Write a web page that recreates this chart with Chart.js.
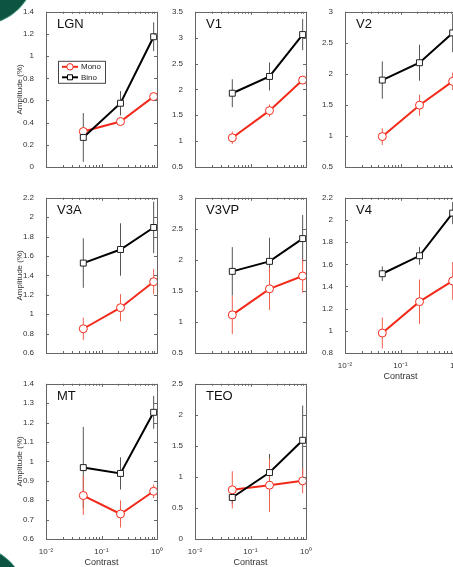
<!DOCTYPE html>
<html>
<head>
  <title>Amplitude vs contrast</title>
  <style>
    body {
      margin: 0;
      width: 453px;
      height: 567px;
      overflow: hidden;
      background: #fff;
      position: relative;
      font-family: "Liberation Sans", Arial, sans-serif;
    }
    .blob {
      position: absolute;
      background: #0e5443;
      border: 1px solid #3f9480;
      border-radius: 50%;
    }
    canvas {
      position: absolute;
    }
  </style>
</head>
<body>
  <div class="blob" style="left:-73px;top:-83px;width:106px;height:106px"></div>
  <div class="blob" style="left:-85px;top:545px;width:110px;height:110px"></div>
  <div class="blob" style="left:447px;top:-40px;width:46px;height:46px"></div>

  <script src="https://cdn.jsdelivr.net/npm/chart.js"></script>
  <script>
    // contrast levels (log axis) and labels
    const contrast = [0.047, 0.22, 0.87];
    const xTickLabels = ['10\u207B\u00B2', '10\u207B\u00B9', '10\u2070'];
    const legendLabels = ['Mono', 'Bino'];

    // amplitude (%) per area, mean and error half-width
    const lgnMono = [0.32, 0.41, 0.635];
    const lgnMonoErr = [0.03, 0.025, 0.035];
    const lgnBino = [0.267, 0.575, 1.175];
    const lgnBinoErr = [0.22, 0.11, 0.13];

    const v1Mono = [1.065, 1.59, 2.18];
    const v1MonoErr = [0.12, 0.12, 0.05];
    const v1Bino = [1.926, 2.25, 3.06];
    const v1BinoErr = [0.27, 0.27, 0.3];

    const v2Mono = [0.99, 1.496, 1.88];
    const v2MonoErr = [0.135, 0.17, 0.14];
    const v2Bino = [1.9, 2.18, 2.66];
    const v2BinoErr = [0.3, 0.29, 0.31];

    const v3aMono = [0.85, 1.067, 1.335];
    const v3aMonoErr = [0.115, 0.14, 0.13];
    const v3aBino = [1.527, 1.667, 1.894];
    const v3aBinoErr = [0.255, 0.27, 0.265];

    const v3vpMono = [1.114, 1.534, 1.74];
    const v3vpMonoErr = [0.31, 0.34, 0.27];
    const v3vpBino = [1.815, 1.976, 2.343];
    const v3vpBinoErr = [0.39, 0.38, 0.38];

    const v4Mono = [0.98, 1.263, 1.45];
    const v4MonoErr = [0.14, 0.2, 0.17];
    const v4Bino = [1.515, 1.677, 2.062];
    const v4BinoErr = [0.066, 0.08, 0.1];

    const mtMono = [0.824, 0.729, 0.846];
    const mtMonoErr = [0.1, 0.07, 0.035];
    const mtBino = [0.968, 0.938, 1.253];
    const mtBinoErr = [0.21, 0.083, 0.085];

    const teoMono = [0.792, 0.867, 0.937];
    const teoMonoErr = [0.3, 0.43, 0.2];
    const teoBino = [0.669, 1.07, 1.59];
    const teoBinoErr = [0.1, 0.3, 0.56];

    const panels = [
      { name: 'LGN', mono: lgnMono, monoErr: lgnMonoErr, bino: lgnBino, binoErr: lgnBinoErr, yMin: 0, yMax: 1.4, yStep: 0.2 },
      { name: 'V1', mono: v1Mono, monoErr: v1MonoErr, bino: v1Bino, binoErr: v1BinoErr, yMin: 0.5, yMax: 3.5, yStep: 0.5 },
      { name: 'V2', mono: v2Mono, monoErr: v2MonoErr, bino: v2Bino, binoErr: v2BinoErr, yMin: 0.5, yMax: 3, yStep: 0.5 },
      { name: 'V3A', mono: v3aMono, monoErr: v3aMonoErr, bino: v3aBino, binoErr: v3aBinoErr, yMin: 0.6, yMax: 2.2, yStep: 0.2 },
      { name: 'V3VP', mono: v3vpMono, monoErr: v3vpMonoErr, bino: v3vpBino, binoErr: v3vpBinoErr, yMin: 0.5, yMax: 3, yStep: 0.5 },
      { name: 'V4', mono: v4Mono, monoErr: v4MonoErr, bino: v4Bino, binoErr: v4BinoErr, yMin: 0.8, yMax: 2.2, yStep: 0.2 },
      { name: 'MT', mono: mtMono, monoErr: mtMonoErr, bino: mtBino, binoErr: mtBinoErr, yMin: 0.6, yMax: 1.4, yStep: 0.1 },
      { name: 'TEO', mono: teoMono, monoErr: teoMonoErr, bino: teoBino, binoErr: teoBinoErr, yMin: 0, yMax: 2.5, yStep: 0.5 }
    ];

    const RED = '#f22a1a';
    const FONT = '"Liberation Sans", Arial, sans-serif';

    // plot area placement on the page
    const colLeft = [46, 195, 345];
    const rowTop = [11, 197, 383];
    const plotW = 111, plotH = 156;
    const axisW = 46, axisH = 36, padTop = 8, padRight = 10;

    function isDecade(v) {
      const l = Math.log10(v);
      return Math.abs(l - Math.round(l)) < 1e-6;
    }

    // error bars under the lines
    const errorBars = {
      id: 'errorBars',
      beforeDatasetsDraw(chart) {
        const ctx = chart.ctx;
        const y = chart.scales.y;
        chart.data.datasets.forEach((ds, i) => {
          const meta = chart.getDatasetMeta(i);
          ctx.save();
          ctx.strokeStyle = ds.errColor;
          ctx.lineWidth = 1;
          meta.data.forEach((pt, k) => {
            const v = ds.data[k].y, e = ds.errors[k];
            ctx.beginPath();
            ctx.moveTo(pt.x, y.getPixelForValue(v + e));
            ctx.lineTo(pt.x, y.getPixelForValue(v - e));
            ctx.stroke();
          });
          ctx.restore();
        });
      }
    };

    // matlab style box, inward ticks, panel name, legend
    const frame = {
      id: 'frame',
      afterDraw(chart) {
        const ctx = chart.ctx;
        const a = chart.chartArea;
        const xs = chart.scales.x, ys = chart.scales.y;
        const opts = chart.options.plugins.frame;
        ctx.save();
        ctx.strokeStyle = '#666';
        ctx.lineWidth = 1;
        ctx.strokeRect(Math.round(a.left) + 0.5, Math.round(a.top) + 0.5,
          Math.round(a.right - a.left), Math.round(a.bottom - a.top));
        ctx.beginPath();
        ys.ticks.forEach(t => {
          const py = Math.round(ys.getPixelForValue(t.value)) + 0.5;
          ctx.moveTo(a.left, py); ctx.lineTo(a.left + 3, py);
          ctx.moveTo(a.right, py); ctx.lineTo(a.right - 3, py);
        });
        for (let d = 0.01; d < 1; d *= 10) {
          for (let k = 1; k <= 9; k++) {
            const px = Math.round(xs.getPixelForValue(k * d)) + 0.5;
            const len = k === 1 ? 3 : 2;
            ctx.moveTo(px, a.bottom); ctx.lineTo(px, a.bottom - len);
            ctx.moveTo(px, a.top); ctx.lineTo(px, a.top + len);
          }
        }
        const p1 = Math.round(xs.getPixelForValue(1)) + 0.5;
        ctx.moveTo(p1, a.bottom); ctx.lineTo(p1, a.bottom - 3);
        ctx.moveTo(p1, a.top); ctx.lineTo(p1, a.top + 3);
        ctx.stroke();

        ctx.fillStyle = '#111';
        ctx.font = '13px ' + FONT;
        ctx.textBaseline = 'alphabetic';
        ctx.fillText(opts.name, a.left + 11, a.top + 16);

        if (opts.legend) {
          const lx = a.left + 12, ly = a.top + 49;
          ctx.fillStyle = '#fff';
          ctx.fillRect(lx, ly, 47, 22);
          ctx.strokeStyle = '#444';
          ctx.strokeRect(lx + 0.5, ly + 0.5, 47, 22);
          ctx.font = '8px ' + FONT;
          ctx.textBaseline = 'middle';
          legendLabels.forEach((lab, i) => {
            const ds = chart.data.datasets.find(d => d.label === lab);
            const cy = ly + 6 + i * 10.5;
            ctx.strokeStyle = ds.borderColor;
            ctx.lineWidth = 2;
            ctx.beginPath();
            ctx.moveTo(lx + 4, cy); ctx.lineTo(lx + 20, cy);
            ctx.stroke();
            ctx.lineWidth = 1;
            ctx.fillStyle = '#fff';
            ctx.beginPath();
            if (ds.pointStyle === 'rect') {
              ctx.rect(lx + 9.5, cy - 2.5, 5, 5);
            } else {
              ctx.arc(lx + 12, cy, 3.2, 0, Math.PI * 2);
            }
            ctx.fill();
            ctx.stroke();
            ctx.fillStyle = '#222';
            ctx.fillText(lab, lx + 23, cy);
          });
        }
        ctx.restore();
      }
    };

    panels.forEach((p, i) => {
      const col = i % 3, row = Math.floor(i / 3);
      const showX = row === 2 || p.name === 'V4';
      const canvas = document.createElement('canvas');
      canvas.width = plotW + axisW + padRight;
      canvas.height = plotH + padTop + axisH;
      canvas.style.left = (colLeft[col] - axisW) + 'px';
      canvas.style.top = (rowTop[row] - padTop) + 'px';
      document.body.appendChild(canvas);

      new Chart(canvas, {
        type: 'line',
        data: {
          datasets: [
            {
              label: 'Bino',
              data: contrast.map((x, k) => ({ x: x, y: p.bino[k] })),
              errors: p.binoErr,
              errColor: '#555',
              borderColor: '#000',
              borderWidth: 2,
              pointStyle: 'rect',
              pointRadius: 4.2,
              pointBackgroundColor: '#fff',
              pointBorderColor: '#222',
              pointBorderWidth: 1,
              tension: 0
            },
            {
              label: 'Mono',
              data: contrast.map((x, k) => ({ x: x, y: p.mono[k] })),
              errors: p.monoErr,
              errColor: '#f0604e',
              borderColor: RED,
              borderWidth: 2,
              pointStyle: 'circle',
              pointRadius: 4,
              pointBackgroundColor: '#fff',
              pointBorderColor: RED,
              pointBorderWidth: 1,
              tension: 0
            }
          ]
        },
        options: {
          responsive: false,
          animation: false,
          devicePixelRatio: 1,
          layout: { padding: { top: padTop, right: padRight, left: 0, bottom: 0 } },
          plugins: {
            legend: { display: false },
            tooltip: { enabled: false },
            frame: { name: p.name, legend: i === 0 }
          },
          scales: {
            x: {
              type: 'logarithmic',
              min: 0.01,
              max: 1,
              grid: { display: false },
              border: { display: false },
              ticks: {
                display: showX,
                autoSkip: false,
                maxRotation: 0,
                padding: 0,
                color: '#333',
                font: { family: FONT, size: 8 },
                callback: v => isDecade(v) ? xTickLabels[Math.round(Math.log10(v)) + 2] : ''
              },
              title: {
                display: showX,
                text: 'Contrast',
                color: '#333',
                font: { family: FONT, size: 9 },
                padding: { top: 0, bottom: 7 }
              },
              afterFit: s => { s.height = axisH; }
            },
            y: {
              min: p.yMin,
              max: p.yMax,
              grid: { display: false },
              border: { display: false },
              ticks: {
                stepSize: p.yStep,
                padding: 4,
                color: '#333',
                font: { family: FONT, size: 8 },
                callback: v => String(+v.toFixed(2))
              },
              title: {
                display: col === 0,
                text: 'Amplitude (%)',
                color: '#333',
                font: { family: FONT, size: 8 },
                padding: { top: 15, bottom: 0 }
              },
              afterFit: s => { s.width = axisW; }
            }
          }
        },
        plugins: [errorBars, frame]
      });
    });
  </script>
</body>
</html>
